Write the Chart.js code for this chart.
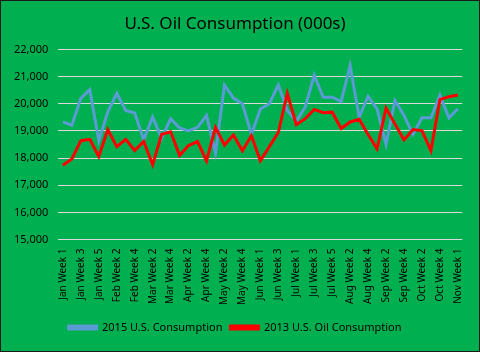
<!DOCTYPE html>
<html>
<head>
<meta charset="utf-8">
<script src="https://cdn.jsdelivr.net/npm/chart.js@4"></script>
<style>
    html, body { margin: 0; padding: 0; background: #fff; }
    #wrap { width: 478px; height: 350px; border: 1px solid #1a1a1a; background: #00B050; position: relative; }
</style>
</head>
<body>
<div id="wrap"><canvas id="oilChart" width="478" height="350"></canvas></div>
<script>
// weekly labels, Jan Week 1 .. Nov Week 1
const WEEKS = [
    'Jan Week 1', 'Jan Week 2', 'Jan Week 3', 'Jan Week 4', 'Jan Week 5',
    'Feb Week 1', 'Feb Week 2', 'Feb Week 3', 'Feb Week 4',
    'Mar Week 1', 'Mar Week 2', 'Mar Week 3', 'Mar Week 4',
    'Apr Week 1', 'Apr Week 2', 'Apr Week 3', 'Apr Week 4',
    'May Week 1', 'May Week 2', 'May Week 3', 'May Week 4', 'May Week 5',
    'Jun Week 1', 'Jun Week 2', 'Jun Week 3', 'Jun Week 4',
    'Jul Week 1', 'Jul Week 2', 'Jul Week 3', 'Jul Week 4', 'Jul Week 5',
    'Aug Week 1', 'Aug Week 2', 'Aug Week 3', 'Aug Week 4',
    'Sep Week 1', 'Sep Week 2', 'Sep Week 3', 'Sep Week 4',
    'Oct Week 1', 'Oct Week 2', 'Oct Week 3', 'Oct Week 4', 'Oct Week 5',
    'Nov Week 1',
];

const CONS_2015 = [
    19330, 19210, 20200, 20520, 18640, 19690, 20380, 19750, 19660, 18670,
    19510, 18730, 19450, 19110, 19000, 19130, 19570, 18180, 20690, 20210,
    20000, 18870, 19810, 20000, 20690, 19750, 19360, 19880, 21050, 20240,
    20240, 20080, 21410, 19510, 20270, 19810, 18510, 20120, 19570, 18870,
    19480, 19480, 20320, 19480, 19810,
];

const CONS_2013 = [
    17735, 17965, 18640, 18690, 18060, 19050, 18420, 18690, 18280, 18610,
    17760, 18870, 18970, 18100, 18460, 18610, 17900, 19130, 18480, 18850,
    18270, 18820, 17900, 18420, 18940, 20380, 19230, 19450, 19790, 19670,
    19690, 19090, 19330, 19430, 18870, 18340, 19840, 19250, 18670, 19050,
    19010, 18270, 20150, 20260, 20320,
];

const Y_MIN = 15000, Y_MAX = 22000, Y_STEP = 1000;

const FONT = '"Noto Sans", "DejaVu Sans", sans-serif';

function fmtThousands(v) { return Number(v).toLocaleString('en-US'); }

new Chart(document.getElementById('oilChart'), {
    type: 'line',
    data: {
        labels: WEEKS,
        datasets: [
            {
                label: '2015 U.S. Consumption', data: CONS_2015,
                borderColor: '#5B9BD5', backgroundColor: '#5B9BD5',
                borderWidth: 3, pointRadius: 0, tension: 0, order: 1,
            },
            {
                label: '2013 U.S. Oil Consumption', data: CONS_2013,
                borderColor: '#FF0000', backgroundColor: '#FF0000',
                borderWidth: 3, pointRadius: 0, tension: 0, order: 0,
            },
        ],
    },
    options: {
        responsive: false,
        animation: false,
        layout: { padding: { left: 3, right: 13, top: 0, bottom: 8 } },
        plugins: {
            title: {
                display: true, text: 'U.S. Oil Consumption (000s)', color: '#000',
                font: { family: FONT, size: 17, weight: 'normal' },
                padding: { top: 13, bottom: 15 },
            },
            legend: {
                position: 'bottom',
                labels: {
                    color: '#000', boxWidth: 28, boxHeight: 3, padding: 8,
                    font: { family: FONT, size: 11 },
                    sort: (a, b) => a.datasetIndex - b.datasetIndex,
                },
            },
            tooltip: { enabled: false },
        },
        scales: {
            x: {
                offset: true,
                grid: { display: false, drawTicks: false },
                border: { display: false },
                ticks: {
                    color: '#000', autoSkip: false, maxRotation: 90, minRotation: 90,
                    font: { family: FONT, size: 10 }, padding: 9,
                    callback: (v, i) => (i % 2 === 0 ? WEEKS[i] : ''),
                },
            },
            y: {
                min: Y_MIN, max: Y_MAX,
                grid: { color: '#d9d9d9', lineWidth: 1, drawTicks: false },
                border: { display: false },
                ticks: {
                    stepSize: Y_STEP, color: '#000', padding: 10,
                    font: { family: FONT, size: 11 },
                    callback: (v) => fmtThousands(v),
                },
            },
        },
    },
});
</script>
</body>
</html>
